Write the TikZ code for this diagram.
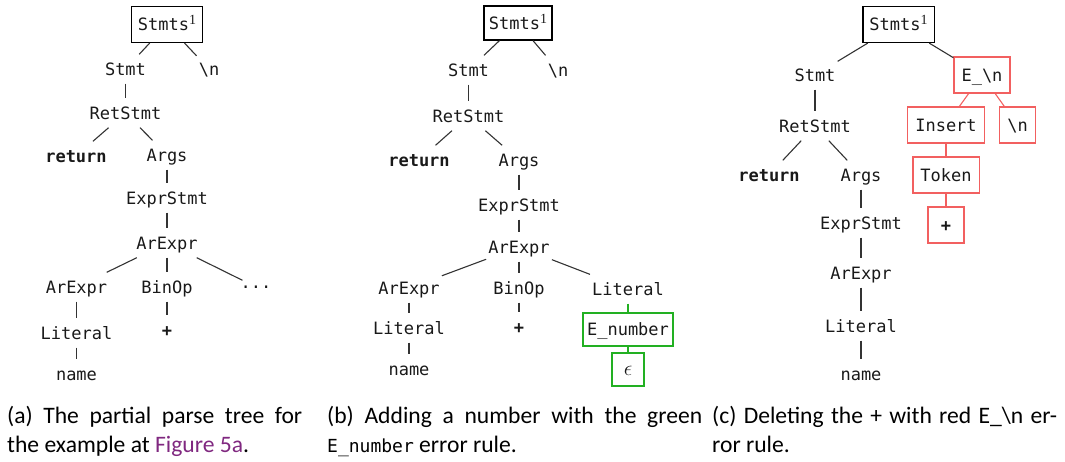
\documentclass[tikz,border=0pt]{standalone}
\usepackage{fontspec}
\setmainfont{Carlito}
\setmonofont{DejaVu Sans Mono}
\newfontfamily\supfont{Liberation Serif}
\definecolor{errgreen}{RGB}{34,176,34}
\definecolor{errred}{RGB}{242,96,96}
\definecolor{linkpurple}{RGB}{128,40,128}
\newcommand{\bsl}{\textbackslash}
\newcommand{\captt}[1]{{\fontsize{18}{20}\selectfont\ttfamily #1}}
\newcommand{\supone}{\raisebox{6pt}{\supfont\fontsize{14}{14}\selectfont 1}}
\begin{document}
\begin{tikzpicture}[x=1pt,y=-1pt,
  every node/.style={font=\fontsize{17}{20}\selectfont\ttfamily, text=black!90},
  tn/.style={inner xsep=2pt, inner ysep=8.5pt, text height=12pt, text depth=0pt},
  dotsn/.style={inner xsep=4pt, inner ysep=5pt, text height=3pt, text depth=0pt},
  bx/.style={draw=black, line width=1.2pt, inner xsep=7.5pt, inner ysep=0pt,
    minimum height=36pt, minimum width=36pt, text height=12pt, text depth=0pt},
  gbx/.style={bx, draw=errgreen, inner xsep=4pt, minimum height=33pt, minimum width=32pt},
  rbx/.style={bx, draw=errred},
  ed/.style={line width=1.1pt, draw=black!80},
  gedge/.style={line width=1.1pt, draw=errgreen},
  redge/.style={line width=1.1pt, draw=errred},
  captxt/.style={font=\fontsize{23.6}{28}\selectfont\rmfamily, text=black, anchor=base west, inner sep=0pt},
]
\useasboundingbox (0,0) rectangle (1065,461);

% ---------- (a) ----------
\node[bx, inner xsep=6.5pt] (a0) at (167,24.5) {Stmts\supone};
\node[tn] (a1) at (125.5,69) {Stmt};
\node[tn] (a2) at (209,69) {\bsl n};
\node[tn] (a3) at (125.5,113) {RetStmt};
\node[tn] (a4) at (76,156) {\textbf{return}};
\node[tn] (a5) at (167,155) {Args};
\node[tn] (a6) at (167,198) {ExprStmt};
\node[tn] (a7) at (167,243) {ArExpr};
\node[tn] (a8) at (76.5,287) {ArExpr};
\node[tn] (a9) at (167,287) {BinOp};
\node[dotsn] (a10) at (256,287) {...};
\node[tn] (a11) at (76.5,333) {Literal};
\node[tn] (a12) at (167,330) {\textbf{+}};
\node[tn] (a13) at (76.5,374) {name};
\draw[ed] (a0) -- (a1);
\draw[ed] (a0) -- (a2);
\draw[ed] (a1) -- (a3);
\draw[ed] (a3) -- (a4);
\draw[ed] (a3) -- (a5);
\draw[ed] (a5) -- (a6);
\draw[ed] (a6) -- (a7);
\draw[ed] (a7) -- (a8);
\draw[ed] (a7) -- (a9);
\draw[ed] (a7) -- (a10);
\draw[ed] (a8) -- (a11);
\draw[ed] (a9) -- (a12);
\draw[ed] (a11) -- (a13);

% ---------- (b) ----------
\node[bx, minimum height=34pt, inner xsep=5pt] (b0) at (518,23) {Stmts\supone};
\node[tn] (b1) at (468.5,70) {Stmt};
\node[tn] (b2) at (558,70) {\bsl n};
\node[tn] (b3) at (468.5,116) {RetStmt};
\node[tn] (b4) at (419,160) {\textbf{return}};
\node[tn] (b5) at (519,160) {Args};
\node[tn] (b6) at (519,205) {ExprStmt};
\node[tn] (b7) at (519,247) {ArExpr};
\node[tn] (b8) at (409,288) {ArExpr};
\node[tn] (b9) at (519,288) {BinOp};
\node[tn] (b10) at (628,289) {Literal};
\node[tn] (b11) at (409,328) {Literal};
\node[tn] (b12) at (519,327) {\textbf{+}};
\node[tn] (b13) at (409,369) {name};
\node[gbx] (b14) at (628,329.5) {E\_number};
\node[gbx] (b15) at (628,369.5) {\resizebox{8.5pt}{!}{$\epsilon$}};
\draw[ed] (b0) -- (b1);
\draw[ed] (b0) -- (b2);
\draw[ed] (b1) -- (b3);
\draw[ed] (b3) -- (b4);
\draw[ed] (b3) -- (b5);
\draw[ed] (b5) -- (b6);
\draw[ed] (b6) -- (b7);
\draw[ed] (b7) -- (b8);
\draw[ed] (b7) -- (b9);
\draw[ed] (b7) -- (b10);
\draw[ed] (b8) -- (b11);
\draw[ed] (b9) -- (b12);
\draw[ed] (b11) -- (b13);
\draw[gedge] (b10) -- (b14);
\draw[gedge] (b14) -- (b15);

% ---------- (c) ----------
\node[bx, inner xsep=6.5pt] (c0) at (898.5,24.5) {Stmts\supone};
\node[tn] (c1) at (815,75) {Stmt};
\node[rbx] (c2) at (982,75) {E\_\bsl n};
\node[tn] (c3) at (815,126) {RetStmt};
\node[tn] (c4) at (769,175) {\textbf{return}};
\node[tn] (c5) at (861,175) {Args};
\node[tn] (c6) at (861,223) {ExprStmt};
\node[tn] (c7) at (861,273) {ArExpr};
\node[tn] (c8) at (861,326) {Literal};
\node[tn] (c9) at (861,374) {name};
\node[rbx] (c10) at (946,125) {Insert};
\node[rbx] (c11) at (1017.5,125) {\bsl n};
\node[rbx] (c12) at (946,175) {Token};
\node[rbx] (c13) at (946,225) {\textbf{+}};
\draw[ed] (c0) -- (c1);
\draw[ed] (c0) -- (c2);
\draw[ed] (c1) -- (c3);
\draw[ed] (c3) -- (c4);
\draw[ed] (c3) -- (c5);
\draw[ed] (c5) -- (c6);
\draw[ed] (c6) -- (c7);
\draw[ed] (c7) -- (c8);
\draw[ed] (c8) -- (c9);
\draw[redge] (c2) -- (c10);
\draw[redge] (c2) -- (c11);
\draw[redge] (c10) -- (c12);
\draw[redge] (c12) -- (c13);

% ---------- captions ----------
\node[captxt] (capa1) at (7,423) {\makebox[295pt][s]{(a) The partial parse tree for}};
\node[captxt] (capa2) at (7,452) {the example at \textcolor{linkpurple}{Figure 5a}.};
\node[captxt] (capb1) at (327,423) {\makebox[375pt][s]{(b) Adding a number with the green}};
\node[captxt] (capb2) at (327,452) {\captt{E\_number} error rule.};
\node[captxt] (capc1) at (712,423) {\makebox[345pt][s]{(c) Deleting the + with red E\_\bsl n er-}};
\node[captxt] (capc2) at (712,452) {ror rule.};
\end{tikzpicture}
\end{document}
